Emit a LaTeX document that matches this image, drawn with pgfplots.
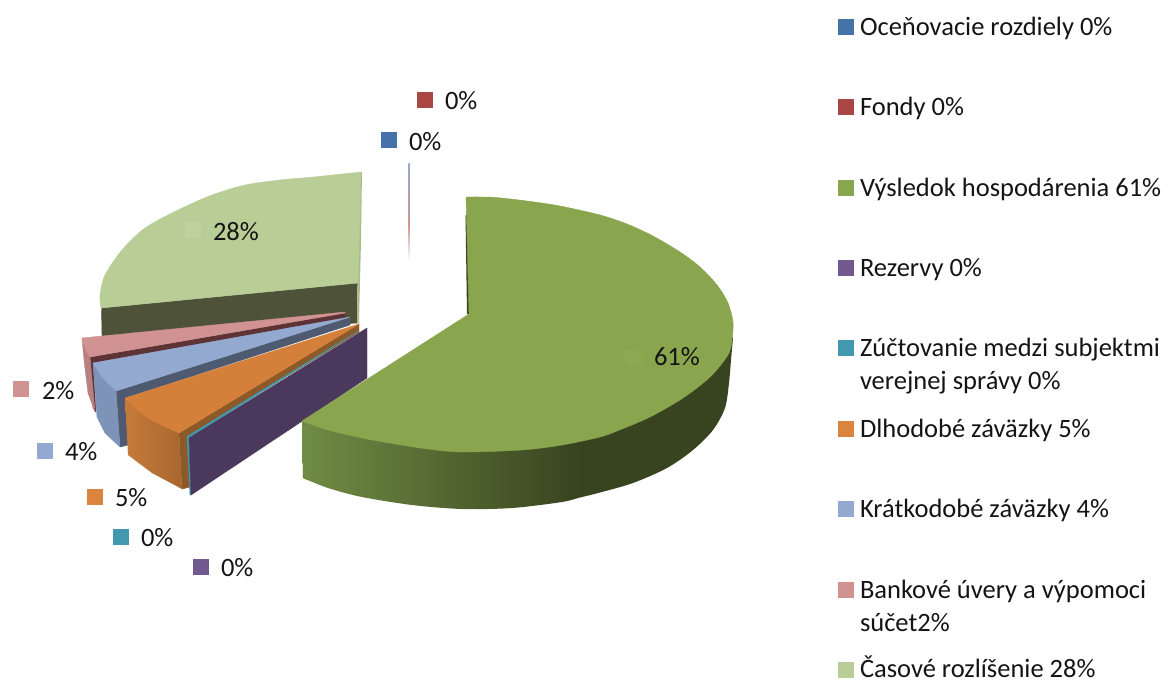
\documentclass[border=0pt]{standalone}
\usepackage{pgfplots}
\pgfplotsset{compat=1.18}
\usepackage{fontspec}
\setmainfont{Carlito}
\definecolor{cBlue}{HTML}{4572A7}
\definecolor{cRed}{HTML}{AA4643}
\definecolor{cGreen}{HTML}{89A54E}
\definecolor{cPurple}{HTML}{71588F}
\definecolor{cTeal}{HTML}{4198AF}
\definecolor{cOrange}{HTML}{DB843D}
\definecolor{cLBlue}{HTML}{93A9CF}
\definecolor{cPink}{HTML}{D19392}
\definecolor{cLGreen}{HTML}{B9CD96}
\definecolor{dOlive}{HTML}{4D5239}
\definecolor{dGreen}{HTML}{38431F}
\definecolor{sGreen}{RGB}{112,140,68}
\tikzset{txt/.style={anchor=base west, inner sep=0pt, outer sep=0pt, font=\fontsize{26.5}{30}\selectfont, text=black!92}}
\pgfplotsset{sq/.style={only marks, mark=square*, mark size=7.5, mark options={draw=#1, fill=#1, line width=0pt}}}
\begin{document}
\begin{tikzpicture}
\begin{axis}[
  scale only axis, width=1168pt, height=681pt,
  xmin=0, xmax=1168, ymin=0, ymax=681, y dir=reverse,
  axis lines=none, clip=false,
  every axis plot/.append style={line width=0.4pt},
]
\addplot[draw=none] coordinates {(0,0) (1168,681)};

% thin exploded slices (0%)
\addplot[draw=none, top color=cLBlue, bottom color=cPink] coordinates {(408.4,163) (409.8,163) (409.8,225) (408.4,225)} -- cycle;
\addplot[draw=none, top color=cPink, bottom color=white] coordinates {(408.4,225) (409.8,225) (409.8,261) (408.4,261)} -- cycle;

% Casove rozlisenie 28%
\addplot[fill=dOlive, draw=dOlive] coordinates {(358,283) (101.5,308) (102,336) (358,323)} -- cycle;
\addplot[fill={rgb,255:red,170;green,188;blue,140}, draw=none] coordinates {(362,172) (361,240) (359,323) (357,323) (358,172)} -- cycle;
\addplot[smooth, fill=cLGreen, draw=cLGreen] coordinates {(361,172) (313,177) (280,180) (245,185) (212,195) (178,210) (145,228) (122,250) (105,275) (100,295) (101,308)} -- (axis cs:358,283) -- cycle;

% Bankove uvery 2%
\addplot[fill={rgb,255:red,94;green,51;blue,53}, draw={rgb,255:red,94;green,51;blue,53}] coordinates {(345,313) (345,318.5) (93,363) (96,412) (93,408) (90,357)} -- cycle;
\addplot[fill={rgb,255:red,185;green,128;blue,130}, draw={rgb,255:red,185;green,128;blue,130}] coordinates {(82,338) (90,357) (95,412) (88,393) (84,360)} -- cycle;
\addplot[fill=cPink, draw=cPink] coordinates {(82,338) (345,312) (345,313) (90,357) (85,348)} -- cycle;

% Kratkodobe zavazky 4%
\addplot[fill={rgb,255:red,77;green,90;blue,112}, draw={rgb,255:red,77;green,90;blue,112}] coordinates {(116,391) (350,317) (350,325) (125,398) (128,445) (120,447)} -- cycle;
\addplot[fill={rgb,255:red,126;green,147;blue,184}, draw={rgb,255:red,126;green,147;blue,184}] coordinates {(93,363) (116,391) (120,447) (105,433) (97,417)} -- cycle;
\addplot[fill=cLBlue, draw=cLBlue] coordinates {(93,363) (350,317) (116,391) (103,378)} -- cycle;

% Dlhodobe zavazky 5%
\addplot[fill={rgb,255:red,140;green,90;blue,40}, draw={rgb,255:red,140;green,90;blue,40}] coordinates {(179,433) (359,324) (359,332) (188,437) (190,487) (182,489)} -- cycle;
\addplot[left color={rgb,255:red,197;green,123;blue,58}, right color={rgb,255:red,168;green,103;blue,47}, draw=none] coordinates {(125,398) (128,455) (152,473) (182,489) (179,433)} -- cycle;
\addplot[smooth, fill=cOrange!97!black, draw=cOrange!97!black] coordinates {(125,398) (148,418) (179,433)} -- (axis cs:359,324) -- cycle;

% Zuctovanie 0% and Rezervy 0%
\addplot[fill=cTeal, draw=cTeal] coordinates {(358,331) (187,436.5) (190,495) (191,495) (189,438)} -- cycle;
\addplot[fill={rgb,255:red,75;green,56;blue,93}, draw={rgb,255:red,75;green,56;blue,93}] coordinates {(367,328) (189,438) (191,495) (367,378)} -- cycle;

% Vysledok hospodarenia 61%
\addplot[smooth, left color=sGreen, right color=dGreen, draw=none] coordinates {(303,478) (328,488) (362,497) (412,505) (462,509) (512,508) (562,502) (581,497)} -- (axis cs:581,420) -- (axis cs:302,421) -- cycle;
\addplot[fill=sGreen, draw=none] coordinates {(302,421) (308,423) (308,480.2) (303,478)} -- cycle;
\addplot[smooth, fill=dGreen, draw=none] coordinates {(733,338) (731,360) (729,383) (725,408) (713,430) (693,450) (667,468) (633,483) (600,492.5) (580,497.5)} -- (axis cs:580,400) -- (axis cs:720,320) -- cycle;
\addplot[fill=dGreen, draw=none] coordinates {(465.5,215) (467,314) (470,314) (468,215)} -- cycle;
\addplot[smooth, fill=cGreen, draw=cGreen] coordinates {(466,197) (493,197.3) (527,201) (560,206) (600,215) (627,224) (653,236) (680,252) (700,267) (717,285) (728,303) (733,322) (732,340) (728,355) (710,377) (683,398) (650,417) (617,431) (600,437) (562,445) (522,450) (462,452) (428,449) (395,444) (362,438) (328,430) (302,421)} -- (axis cs:469,314) -- cycle;

% data label keys
\addplot[sq=cRed] coordinates {(424.5,99.5)};
\addplot[sq=cBlue] coordinates {(388.5,139.5)};
\addplot[sq=cPink] coordinates {(20.5,388.5)};
\addplot[sq=cLBlue] coordinates {(44.5,450.5)};
\addplot[sq=cOrange] coordinates {(94.5,496.5)};
\addplot[sq=cTeal] coordinates {(120.5,536.5)};
\addplot[sq=cPurple] coordinates {(200.5,566.5)};
\addplot[sq=cLGreen!92!white] coordinates {(192.5,230)};
\addplot[sq=cGreen!97!white] coordinates {(632.5,357.5)};

\node[txt] at (axis cs:445,109.5) {0\%};
\node[txt] at (axis cs:409,150) {0\%};
\node[txt] at (axis cs:42,399) {2\%};
\node[txt] at (axis cs:65,460) {4\%};
\node[txt] at (axis cs:115,506) {5\%};
\node[txt] at (axis cs:141,546) {0\%};
\node[txt] at (axis cs:221,576) {0\%};
\node[txt] at (axis cs:213,240) {28\%};
\node[txt] at (axis cs:654,365) {61\%};

% legend
\addplot[sq=cBlue] coordinates {(845.5,26.5)};
\addplot[sq=cRed] coordinates {(845.5,106.5)};
\addplot[sq=cGreen] coordinates {(845.5,187.5)};
\addplot[sq=cPurple] coordinates {(845.5,267.5)};
\addplot[sq=cTeal] coordinates {(845.5,347.5)};
\addplot[sq=cOrange] coordinates {(845.5,428.5)};
\addplot[sq=cLBlue] coordinates {(845.5,508.5)};
\addplot[sq=cPink] coordinates {(845.5,589.5)};
\addplot[sq=cLGreen] coordinates {(845.5,669.5)};

\node[txt] at (axis cs:860,35) {Oceňovacie rozdiely 0\%};
\node[txt] at (axis cs:860,115) {Fondy 0\%};
\node[txt] at (axis cs:860,196) {Výsledok hospodárenia 61\%};
\node[txt] at (axis cs:860,276) {Rezervy 0\%};
\node[txt] at (axis cs:860,356) {Zúčtovanie medzi subjektmi};
\node[txt] at (axis cs:860,389) {verejnej správy 0\%};
\node[txt] at (axis cs:860,437) {Dlhodobé záväzky 5\%};
\node[txt] at (axis cs:860,517) {Krátkodobé záväzky 4\%};
\node[txt] at (axis cs:860,598) {Bankové úvery a výpomoci};
\node[txt] at (axis cs:860,631) {súčet2\%};
\node[txt] at (axis cs:860,677.5) {Časové rozlíšenie 28\%};
\end{axis}
\end{tikzpicture}
\end{document}
